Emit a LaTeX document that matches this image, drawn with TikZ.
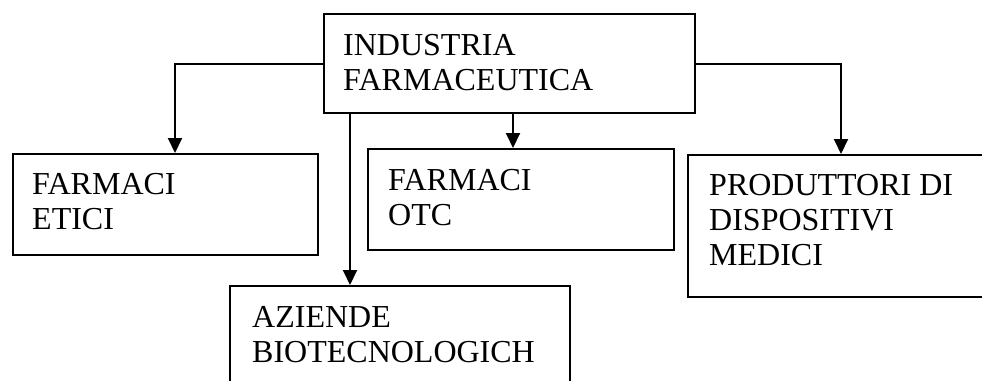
\documentclass[tikz,border=0pt]{standalone}
\usepackage{fontspec}
\setmainfont{Liberation Serif}
\usetikzlibrary{arrows.meta}
\begin{document}
\begin{tikzpicture}[x=1pt,y=-1pt,
  box/.style={draw=black, line width=2pt, rectangle, inner sep=0pt, anchor=north west},
  label text/.style={inner sep=0pt, anchor=north west, align=left,
    font=\fontsize{32}{35}\selectfont},
  arr/.style={draw=black, line width=2pt, -{Triangle[length=15pt,width=14pt]}}]
  \clip (0,0) rectangle (982,380);
  \fill[white] (0,0) rectangle (982,380);

  % boxes
  \node[box, minimum width=371pt, minimum height=99pt]  (ind)  at (323,13)  {};
  \node[box, minimum width=305pt, minimum height=101pt] (etici) at (12,153) {};
  \node[box, minimum width=306pt, minimum height=101pt] (otc)  at (367,148) {};
  \node[box, minimum width=340pt, minimum height=120pt] (biot) at (229,285) {};
  \node[box, minimum width=306pt, minimum height=142pt] (disp) at (687,154) {};

  % box texts
  \node[label text] (tind)  at (343,34)  {INDUSTRIA\\FARMACEUTICA};
  \node[label text] (tetic) at (32,173)  {FARMACI\\ETICI};
  \node[label text] (totc)  at (388,169) {FARMACI\\OTC};
  \node[label text] (tbiot) at (252,306) {AZIENDE\\BIOTECNOLOGICH};
  \node[label text] (tdisp) at (709,174) {PRODUTTORI DI\\DISPOSITIVI\\MEDICI};

  % connector end points on the child boxes
  \coordinate (eticiIn) at ([xshift=9.5pt]etici.north);
  \coordinate (otcIn)   at ([xshift=-8pt]otc.north);
  \coordinate (biotIn)  at ([xshift=-50pt]biot.north);

  % connectors
  \draw[arr] (ind.west) -| (eticiIn);
  \draw[arr] (ind.south -| otcIn) -- (otcIn);
  \draw[arr] (ind.south -| biotIn) -- (biotIn);
  \draw[arr] (ind.east) -| (disp.north);
\end{tikzpicture}
\end{document}
